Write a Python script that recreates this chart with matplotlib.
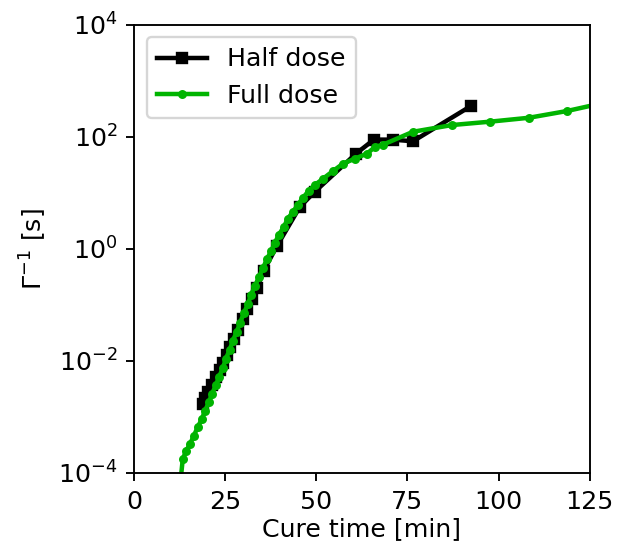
import numpy as np
import matplotlib
matplotlib.use('Agg')
import matplotlib.pyplot as plt

# half dose: cure time [min] and log10 of relaxation time [s]
half_t = [18.9, 19.5, 20.3, 21.4, 22.5, 23.6, 24.4, 25.5, 26.3, 27.4, 28.5, 29.9,
          31.0, 32.4, 33.7, 35.6, 39.2, 45.5, 49.6, 60.9, 65.8, 71.0, 76.5, 92.4]
half_logtau = [-2.77, -2.66, -2.55, -2.43, -2.29, -2.16, -2.04, -1.89, -1.75, -1.61,
               -1.45, -1.25, -1.07, -0.89, -0.70, -0.39, 0.05, 0.75, 1.02, 1.70,
               1.95, 1.95, 1.92, 2.55]

# full dose
full_t = [12.9, 13.4, 14.3, 15.4, 16.4, 17.5, 18.6, 19.5, 20.6, 21.4, 22.5, 23.3,
          24.4, 25.2, 26.3, 27.1, 28.2, 29.1, 30.2, 31.3, 32.1, 33.2, 34.3, 35.4,
          36.5, 37.6, 38.7, 39.7, 41.1, 42.2, 43.6, 45.0, 46.3, 48.0, 49.6, 51.8,
          54.6, 57.3, 60.6, 63.9, 66.1, 68.3, 76.5, 87.2, 97.6, 108.3, 118.7, 129.1]
full_logtau = [-4.07, -3.75, -3.61, -3.48, -3.34, -3.18, -3.04, -2.89, -2.73, -2.59,
               -2.43, -2.29, -2.13, -1.96, -1.80, -1.64, -1.48, -1.32, -1.14, -0.98,
               -0.82, -0.66, -0.50, -0.34, -0.18, -0.04, 0.11, 0.25, 0.39, 0.54,
               0.66, 0.79, 0.91, 1.04, 1.14, 1.25, 1.39, 1.52, 1.61, 1.70, 1.82,
               1.86, 2.09, 2.21, 2.27, 2.34, 2.46, 2.61]

half_tau = 10.0 ** np.array(half_logtau)
full_tau = 10.0 ** np.array(full_logtau)

plt.rcParams['font.size'] = 10.7
plt.rcParams['lines.linewidth'] = 1.9

fig = plt.figure(figsize=(617 / 170, 550 / 170), dpi=170)
ax = fig.add_axes([0.217, 0.14, 0.739, 0.815])

ax.plot(half_t, half_tau, color='black', marker='s', markersize=4.3, label='Half dose')
ax.plot(full_t, full_tau, color='#00b400', marker='o', markersize=2.8, label='Full dose')

ax.set_yscale('log')
ax.set_xlim(0, 125)
ax.set_ylim(1e-4, 1e4)
ax.set_xticks([0, 25, 50, 75, 100, 125])
ax.set_yticks([1e-4, 1e-2, 1e0, 1e2, 1e4])
ax.yaxis.set_minor_locator(matplotlib.ticker.NullLocator())

ax.set_xlabel('Cure time [min]', labelpad=1.5)
ax.set_ylabel('Γ$^{-1}$ [s]')
ax.legend(loc='upper left')

fig.savefig('out.png', dpi=170)
